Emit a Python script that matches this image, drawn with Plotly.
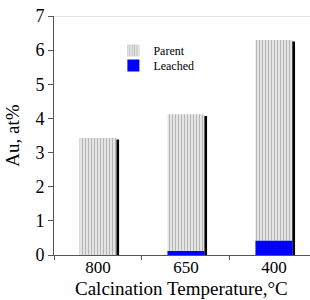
import plotly.graph_objects as go

categories = ["800", "650", "400"]
parent = [3.43, 4.12, 6.3]
leached = [0.0, 0.12, 0.42]
y_ticks = [0, 1, 2, 3, 4, 5, 6, 7]

font = "Liberation Serif"
W = 0.42

fig = go.Figure()
# shadow behind parent bars
fig.add_trace(go.Bar(
    x=categories, y=[v - 0.05 for v in parent], width=W, offset=-W / 2 + 0.03,
    marker=dict(color="black", line=dict(width=0)), showlegend=False, hoverinfo="skip"))
fig.add_trace(go.Bar(
    name="Parent", x=categories, y=parent, width=W, offset=-W / 2, legend="legend",
    marker=dict(color="#f2f2f2", line=dict(width=0),
                pattern=dict(shape="|", fgcolor="#7a7a7a", bgcolor="#f2f2f2", size=3, solidity=0.5))))
fig.add_trace(go.Bar(
    name="Leached", x=categories, y=leached, width=W, offset=-W / 2, legend="legend2",
    marker=dict(color="#0000ff", line=dict(width=0))))

leg = dict(x=0.232, xanchor="left", yanchor="top", bgcolor="rgba(0,0,0,0)",
           font=dict(size=12, family=font), itemwidth=30)

fig.update_layout(
    width=310, height=300, barmode="overlay",
    margin=dict(l=54, r=0, t=16, b=45, autoexpand=False),
    plot_bgcolor="white", paper_bgcolor="white",
    font=dict(family=font, color="black"),
    showlegend=True,
    legend=dict(leg, y=0.916),
    legend2=dict(leg, y=0.854),
    xaxis=dict(type="category", range=[-0.5, 2.41], tickson="boundaries", ticks="outside",
               ticklen=4, tickcolor="#555", showline=True, linecolor="#555", linewidth=1,
               tickfont=dict(size=17, family=font), ticklabelstandoff=-3, automargin=False),
    yaxis=dict(range=[0, 7], tickvals=y_ticks, ticks="outside", ticklen=5, tickcolor="#555",
               showline=True, linecolor="#555", linewidth=1, showgrid=False, zeroline=False,
               tickfont=dict(size=18, family=font), automargin=False,
               title=dict(text="Au, at%", font=dict(size=19, family=font), standoff=10)),
    shapes=[dict(type="line", xref="paper", yref="y", x0=0, x1=1, y0=7, y1=7,
                 line=dict(color="#c8c8c8", width=1))],
    annotations=[dict(text="Calcination Temperature,°C", xref="paper", yref="paper",
                      x=(181 - 54) / 256, y=0, yshift=-33, xanchor="center", yanchor="middle",
                      showarrow=False, font=dict(size=19, family=font))],
)

fig.write_html("out.html", config={"displayModeBar": False},
               post_script="document.body.style.margin='0';")
